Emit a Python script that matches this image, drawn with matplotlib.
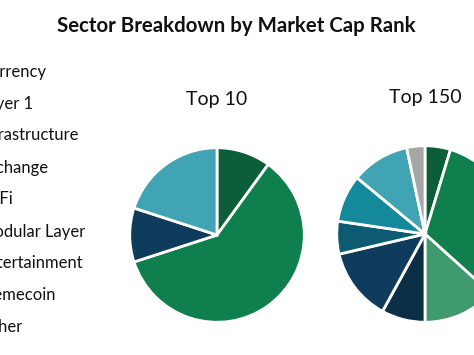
import matplotlib
matplotlib.use("Agg")
import matplotlib.pyplot as plt

categories = ["Currency", "Layer 1", "Infrastructure", "Exchange", "DeFi",
              "Modular Layer", "Entertainment", "Memecoin", "Other"]
top10 = [1, 6, 0, 0, 1, 0, 0, 2, 0]
top150 = [7, 48, 20, 12, 20, 9, 13, 16, 5]
colors = ["#0B5E38", "#0F7F4D", "#3F9A6E", "#0C2F48", "#0F3C5C",
          "#0D5B70", "#13899B", "#41A4B4", "#A6A6A6"]
pie_titles = ["Top 10", "Top 150"]
main_title = "Sector Breakdown by Market Cap Rank"

W, H = 474, 355
fig = plt.figure(figsize=(W / 100, H / 100), dpi=100)
fig.patch.set_facecolor("white")
FONT = "Lato"

def draw_pie(vals, cx, cy, r, title, ty):
    ax = fig.add_axes([(cx - r) / W, (H - cy - r) / H, 2 * r / W, 2 * r / H])
    v = [x for x in vals if x > 0]
    c = [col for x, col in zip(vals, colors) if x > 0]
    ax.pie(v, colors=c, startangle=90, counterclock=False, radius=1,
           wedgeprops=dict(edgecolor="white", linewidth=2.0))
    ax.set_xlim(-1.02, 1.02)
    ax.set_ylim(-1.02, 1.02)
    ax.set_aspect("equal")
    ax.axis("off")
    fig.text(cx / W, 1 - ty / H, title, ha="center", va="center",
             fontsize=14, family=FONT, color="#111111")

draw_pie(top10, 217, 235, 89, pie_titles[0], 99)
draw_pie(top150, 425, 234, 90, pie_titles[1], 98)

fig.text(236 / W, 1 - 26 / H, main_title, ha="center", va="center",
         fontsize=14.7, fontweight="bold", family=FONT, color="#111111")

for i, lab in enumerate(categories):
    y = 71.5 + i * 32.0
    fig.text(-21 / W, 1 - y / H, lab, ha="left", va="center",
             fontsize=12, family=FONT, color="#111111")

fig.savefig("out.png", dpi=100)
